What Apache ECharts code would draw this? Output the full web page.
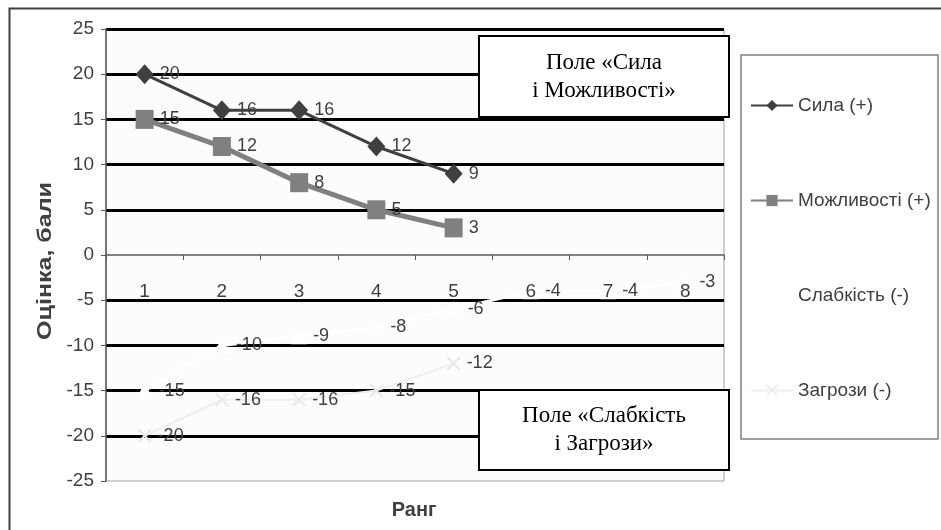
<!DOCTYPE html>
<html>
<head>
<meta charset="utf-8">
<script src="https://cdn.jsdelivr.net/npm/echarts@6/dist/echarts.min.js"></script>
<style>html,body{margin:0;padding:0;background:#fff}#c{width:941px;height:530px}</style>
</head>
<body>
<div id="c"></div>
<script>
const categories = ['1','2','3','4','5','6','7','8'];
const sila = [20, 16, 16, 12, 9];
const mozhlyvosti = [15, 12, 8, 5, 3];
const slabkist = [-15, -10, -9, -8, -6, -4, -4, -3];
const zagrozy = [-20, -16, -16, -15, -12];
const seriesNames = ['Сила (+)', 'Можливості (+)', 'Слабкість (-)', 'Загрози (-)'];
const yMin = -25, yMax = 25, yStep = 5;

const FONT = '"Liberation Sans", Arial, sans-serif';
const SERIF = '"Liberation Serif", "Times New Roman", serif';
const TXT = '#404040';
const xPath = 'path://M0,1L1,0L5,4L9,0L10,1L6,5L10,9L9,10L5,6L1,10L0,9L4,5Z';

const lbl = {show: true, position: 'right', distance: 6, fontSize: 18, fontFamily: FONT, color: TXT};

const chart = echarts.init(document.getElementById('c'), null, {renderer: 'canvas'});
// offset that puts the category axis on the y = 0 value line
const gridTop = 29, gridBottom = 49, H = 530;
const plotH = H - gridTop - gridBottom;
const zeroOffset = -plotH * (0 - yMin) / (yMax - yMin);

chart.setOption({
  animation: false,
  backgroundColor: '#fff',
  textStyle: {fontFamily: FONT},
  grid: {left: 106, right: 217, top: gridTop, bottom: gridBottom, show: true, backgroundColor: '#fcfcfc', borderColor: '#a0a0a0', borderWidth: 1},
  legend: {
    orient: 'vertical', left: 750, top: 96, padding: 0,
    itemWidth: 42, itemHeight: 14, itemGap: 76,
    textStyle: {fontSize: 19, color: TXT, fontFamily: FONT},
    data: seriesNames
  },
  xAxis: {
    type: 'category', data: categories, boundaryGap: true, position: 'bottom', offset: zeroOffset, z: 10,
    axisLine: {onZero: false, lineStyle: {color: '#595959', width: 1.5}},
    axisTick: {show: true, length: 5, lineStyle: {color: '#595959'}},
    axisLabel: {margin: 27, fontSize: 19, color: TXT, fontFamily: FONT},
    splitLine: {show: false}
  },
  yAxis: {
    type: 'value', min: yMin, max: yMax, interval: yStep,
    axisLine: {show: true, lineStyle: {color: '#595959', width: 1.5}},
    axisTick: {show: true, length: 5, lineStyle: {color: '#595959'}},
    axisLabel: {fontSize: 19, color: TXT, fontFamily: FONT, margin: 12},
    splitLine: {show: true, lineStyle: {width: 3, color: ['transparent','#000','#000','#000','#000','transparent','#000','#000','#000','#000','#000']}}
  },
  series: [
    {name: seriesNames[0], type: 'line', data: sila, symbol: 'diamond', symbolSize: [18, 20],
     lineStyle: {color: '#404040', width: 3}, itemStyle: {color: '#404040'}, label: lbl, z: 5},
    {name: seriesNames[1], type: 'line', data: mozhlyvosti, symbol: 'rect', symbolSize: [18, 19],
     lineStyle: {color: '#808080', width: 5}, itemStyle: {color: '#808080'}, label: lbl, z: 4},
    {name: seriesNames[2], type: 'line', data: slabkist, symbol: 'triangle', symbolSize: 16,
     lineStyle: {color: '#ffffff', width: 3}, itemStyle: {color: '#ffffff'}, label: lbl, z: 3},
    {name: seriesNames[3], type: 'line', data: zagrozy, symbol: xPath, symbolSize: 14,
     lineStyle: {color: '#eeeeee', width: 2}, itemStyle: {color: '#e8e8e8'}, label: lbl, z: 3}
  ],
  graphic: [
    {type: 'rect', left: 7, top: 6, shape: {width: 945, height: 540}, style: {fill: 'none', stroke: '#404040', lineWidth: 2}, silent: true, z: 0},
    {type: 'rect', x: 741, y: 55, shape: {width: 197, height: 384}, style: {fill: 'none', stroke: '#808080', lineWidth: 1.5}, silent: true, z: 1},
    {type: 'rect', x: 479, y: 36, z: 100, shape: {width: 250, height: 81}, style: {fill: '#ffffff', stroke: '#000', lineWidth: 2}},
    {type: 'text', x: 604, y: 77, z: 101, style: {text: 'Поле «Сила\nі Можливості»', font: '23px ' + SERIF, fill: '#000', align: 'center', verticalAlign: 'middle', lineHeight: 28}},
    {type: 'rect', x: 479, y: 390, z: 100, shape: {width: 250, height: 80}, style: {fill: '#ffffff', stroke: '#000', lineWidth: 2}},
    {type: 'text', x: 604, y: 430, z: 101, style: {text: 'Поле «Слабкість\nі Загрози»', font: '23px ' + SERIF, fill: '#000', align: 'center', verticalAlign: 'middle', lineHeight: 28}},
    {type: 'text', x: 45, y: 261, rotation: Math.PI / 2, scaleX: 1.25, style: {text: 'Оцінка, бали', font: 'bold 20px ' + FONT, fill: TXT, align: 'center', verticalAlign: 'middle'}},
    {type: 'text', x: 414, y: 510, style: {text: 'Ранг', font: 'bold 20px ' + FONT, fill: TXT, align: 'center', verticalAlign: 'middle'}}
  ]
});
</script>
</body>
</html>
